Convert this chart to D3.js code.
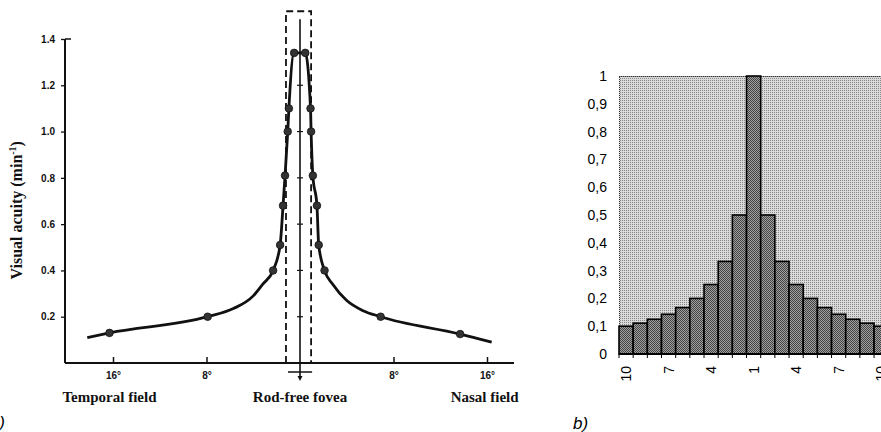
<!DOCTYPE html>
<html><head><meta charset="utf-8">
<script src="https://cdn.jsdelivr.net/npm/d3@7/dist/d3.min.js"></script>
<style>html,body{margin:0;padding:0;background:#fff;overflow:hidden}</style>
</head><body>
<svg id="c" width="881" height="432"></svg>
<script>
// ---------- Panel a data ----------
const aXTicks = [-16, -8, 8, 16];
const aXTickLabels = ["16°", "8°", "8°", "16°"];
const aYTicks = [0.2, 0.4, 0.6, 0.8, 1.0, 1.2, 1.4];
const aYTickLabels = ["0.2", "0.4", "0.6", "0.8", "1.0", "1.2", "1.4"];
const aMarkerDeg = [-16.3, -7.9, -2.3, -1.7, -1.45, -1.28, -1.05, -0.95, -0.5,
                    0.45, 0.9, 0.95, 1.1, 1.45, 1.6, 2.1, 6.9, 13.7];
const aMarkerAcuity = [0.13, 0.2, 0.4, 0.51, 0.68, 0.81, 1.0, 1.1, 1.34,
                       1.34, 1.1, 1.0, 0.81, 0.68, 0.51, 0.4, 0.2, 0.125];
const aCurveDeg = [-18.2, -16.3, -7.9, -5.7, -4.0, -3.2, -2.3, -1.7, -1.45, -1.28, -1.05, -0.95, -0.5,
                   0.45, 0.9, 0.95, 1.1, 1.45, 1.6, 2.1, 2.8, 4.0, 5.4, 6.9, 13.7, 16.4];
const aCurveAcuity = [0.11, 0.13, 0.2, 0.235, 0.29, 0.34, 0.4, 0.51, 0.68, 0.81, 1.0, 1.1, 1.34,
                      1.34, 1.1, 1.0, 0.81, 0.68, 0.51, 0.4, 0.34, 0.27, 0.226, 0.2, 0.125, 0.09];
const aFieldLabels = ["Temporal field", "Rod-free fovea", "Nasal field"];
const aFoveaBoxDeg = [-1.2, 0.95];

// ---------- Panel b data ----------
const bCategories = ["10","9","8","7","6","5","4","3","2","1","2","3","4","5","6","7","8","9","10"];
const bValues = [0.1, 0.111, 0.125, 0.143, 0.167, 0.2, 0.25, 0.333, 0.5, 1.0,
                 0.5, 0.333, 0.25, 0.2, 0.167, 0.143, 0.125, 0.111, 0.1];
const bYTicks = [0, 0.1, 0.2, 0.3, 0.4, 0.5, 0.6, 0.7, 0.8, 0.9, 1];
const bYTickLabels = ["0", "0,1", "0,2", "0,3", "0,4", "0,5", "0,6", "0,7", "0,8", "0,9", "1"];
const bShownLabels = [0, 3, 6, 9, 12, 15, 18];

const svg = d3.select("#c");
svg.append("rect").attr("width", 881).attr("height", 432).attr("fill", "#fff");

// stipple patterns (tile average tuned to the printed grey)
const defs = svg.append("defs");
const pLight = defs.append("pattern").attr("id", "pLight").attr("patternUnits", "userSpaceOnUse")
  .attr("width", 2).attr("height", 2);
pLight.append("rect").attr("width", 2).attr("height", 2).attr("fill", "#dadada");
pLight.append("rect").attr("width", 1).attr("height", 1).attr("fill", "#888");
const pDark = defs.append("pattern").attr("id", "pDark").attr("patternUnits", "userSpaceOnUse")
  .attr("width", 2).attr("height", 2);
pDark.append("rect").attr("width", 2).attr("height", 2).attr("fill", "#a0a0a0");
pDark.append("rect").attr("width", 1).attr("height", 1).attr("fill", "#444");
pDark.append("rect").attr("x", 1).attr("y", 1).attr("width", 1).attr("height", 1).attr("fill", "#444");

// ================= Panel a =================
const xA = d3.scaleLinear().domain([-16, 16]).range([113, 487]);
const yA = d3.scaleLinear().domain([0, 1.4]).range([363, 39]);
const axisLeftX = 65, axisRightX = 514;
const ink = "#111";
const gA = svg.append("g");

// y axis
const yAx = gA.append("g").attr("transform", `translate(${axisLeftX},0)`)
  .call(d3.axisLeft(yA).tickValues(aYTicks).tickFormat((d, i) => aYTickLabels[i])
    .tickSize(4).tickSizeOuter(0).tickPadding(6));
yAx.select(".domain").remove();
yAx.selectAll("line").attr("stroke", ink).attr("stroke-width", 1.3);
yAx.selectAll("text").attr("font-family", "Liberation Sans, Arial, sans-serif")
  .attr("font-weight", "bold").attr("font-size", 10).attr("fill", ink);
gA.append("line").attr("x1", axisLeftX).attr("x2", axisLeftX).attr("y1", yA(1.4)).attr("y2", yA(0))
  .attr("stroke", ink).attr("stroke-width", 2);
gA.append("line").attr("x1", axisLeftX).attr("x2", axisLeftX + 6).attr("y1", yA(1.4)).attr("y2", yA(1.4))
  .attr("stroke", ink).attr("stroke-width", 1.5);

// x axis
gA.append("line").attr("x1", axisLeftX).attr("x2", axisRightX).attr("y1", yA(0)).attr("y2", yA(0))
  .attr("stroke", ink).attr("stroke-width", 2);
const xAx = gA.append("g").attr("transform", `translate(0,${yA(0)})`)
  .call(d3.axisBottom(xA).tickValues(aXTicks).tickFormat((d, i) => aXTickLabels[i])
    .tickSize(-6).tickSizeOuter(0).tickPadding(9));
xAx.select(".domain").remove();
xAx.selectAll("line").attr("stroke", ink).attr("stroke-width", 1.5);
xAx.selectAll("text").attr("font-family", "Liberation Sans, Arial, sans-serif")
  .attr("font-weight", "bold").attr("font-size", 10).attr("fill", ink);

// dashed fovea box
gA.append("path")
  .attr("d", `M${xA(aFoveaBoxDeg[0])},${yA(0)} V${yA(1.52)} H${xA(aFoveaBoxDeg[1])} V${yA(0)}`)
  .attr("fill", "none").attr("stroke", ink).attr("stroke-width", 1.8).attr("stroke-dasharray", "7,4");

// center line with ticks
const cx = xA(0);
gA.append("line").attr("x1", cx).attr("x2", cx).attr("y1", yA(1.485)).attr("y2", yA(0) + 14)
  .attr("stroke", ink).attr("stroke-width", 1.6);
gA.selectAll(".ctick").data(aYTicks.slice(0, 6)).join("line")
  .attr("x1", cx - 3).attr("x2", cx + 3).attr("y1", d => yA(d)).attr("y2", d => yA(d))
  .attr("stroke", ink).attr("stroke-width", 1.2);
// bottom bracket
gA.append("line").attr("x1", xA(aFoveaBoxDeg[0]) + 2).attr("x2", xA(aFoveaBoxDeg[1]) + 1)
  .attr("y1", yA(0) + 9).attr("y2", yA(0) + 9).attr("stroke", ink).attr("stroke-width", 1.5);
gA.append("path").attr("d", `M${cx - 2.5},${yA(0) + 13} L${cx + 2.5},${yA(0) + 13} L${cx},${yA(0) + 18} Z`)
  .attr("fill", ink);

// curve
const curvePts = aCurveDeg.map((d, i) => [d, aCurveAcuity[i]]);
gA.append("path").datum(curvePts)
  .attr("d", d3.line().x(d => xA(d[0])).y(d => yA(d[1])).curve(d3.curveMonotoneX))
  .attr("fill", "none").attr("stroke", ink).attr("stroke-width", 2.8).attr("stroke-linejoin", "round");
gA.selectAll(".mk").data(aMarkerDeg.map((d, i) => [d, aMarkerAcuity[i]])).join("circle")
  .attr("cx", d => xA(d[0])).attr("cy", d => yA(d[1])).attr("r", 3.8).attr("fill", "#333")
  .attr("stroke", ink).attr("stroke-width", 0.8);

// labels
const serif = "Liberation Serif, Times New Roman, serif";
[-16.3, 0, 15.8].forEach((d, i) => {
  gA.append("text").attr("x", xA(d)).attr("y", 402).attr("text-anchor", "middle")
    .attr("font-family", serif).attr("font-weight", "bold").attr("font-size", 15).attr("fill", ink)
    .text(aFieldLabels[i]);
});
const yl = gA.append("text").attr("transform", `translate(22,${yA(0.66)}) rotate(-90)`)
  .attr("text-anchor", "middle").attr("font-family", serif).attr("font-weight", "bold")
  .attr("font-size", 16).attr("fill", ink);
yl.append("tspan").text("Visual acuity (min");
yl.append("tspan").attr("font-size", 10).attr("dy", -6).text("-1");
yl.append("tspan").attr("dy", 6).text(")");

svg.append("text").attr("x", 5).attr("y", 428).attr("text-anchor", "end")
  .attr("font-family", "Liberation Sans, Arial, sans-serif").attr("font-style", "italic")
  .attr("font-size", 17).text("a)");

// ================= Panel b =================
const bLeft = 619, bStep = 14.17;
const xB = d3.scaleBand().domain(d3.range(bCategories.length))
  .range([bLeft, bLeft + bStep * bCategories.length]).padding(0);
const yB = d3.scaleLinear().domain([0, 1]).range([354, 76]);
const gB = svg.append("g");
const [bx0, bx1] = xB.range();

gB.append("rect").attr("x", bx0).attr("y", yB(1)).attr("width", bx1 - bx0).attr("height", yB(0) - yB(1))
  .attr("fill", "url(#pLight)").attr("stroke", "#333").attr("stroke-width", 1)
  .attr("stroke-dasharray", "1,1").attr("shape-rendering", "crispEdges");

gB.selectAll(".bar").data(bValues).join("rect")
  .attr("x", (d, i) => xB(i)).attr("y", d => yB(d))
  .attr("width", xB.bandwidth()).attr("height", d => yB(0) - yB(d))
  .attr("fill", "url(#pDark)").attr("stroke", "#000").attr("stroke-width", 1.6);

// x axis
gB.append("line").attr("x1", bx0).attr("x2", bx1).attr("y1", yB(0)).attr("y2", yB(0))
  .attr("stroke", "#000").attr("stroke-width", 2.2);
gB.selectAll(".xt").data(d3.range(bCategories.length + 1)).join("line")
  .attr("x1", i => bx0 + i * xB.step()).attr("x2", i => bx0 + i * xB.step())
  .attr("y1", yB(0)).attr("y2", yB(0) + 4).attr("stroke", "#000").attr("stroke-width", 1);
gB.selectAll(".xl").data(bShownLabels).join("text")
  .attr("transform", i => `translate(${xB(i) + xB.bandwidth() / 2 + 5},${yB(0) + 12}) rotate(-90)`)
  .attr("text-anchor", "end").attr("font-family", "Liberation Sans, Arial, sans-serif")
  .attr("font-size", 14).attr("fill", "#000").text(i => bCategories[i]);

// y axis
const yBx = gB.append("g").attr("transform", `translate(${bx0},0)`)
  .call(d3.axisLeft(yB).tickValues(bYTicks).tickFormat((d, i) => bYTickLabels[i])
    .tickSize(0).tickPadding(12));
yBx.select(".domain").remove();
yBx.selectAll("text").attr("font-family", "Liberation Sans, Arial, sans-serif")
  .attr("font-size", 14).attr("fill", "#000");

svg.append("text").attr("x", 573).attr("y", 429)
  .attr("font-family", "Liberation Sans, Arial, sans-serif").attr("font-style", "italic")
  .attr("font-size", 17).text("b)");
</script>
</body></html>
